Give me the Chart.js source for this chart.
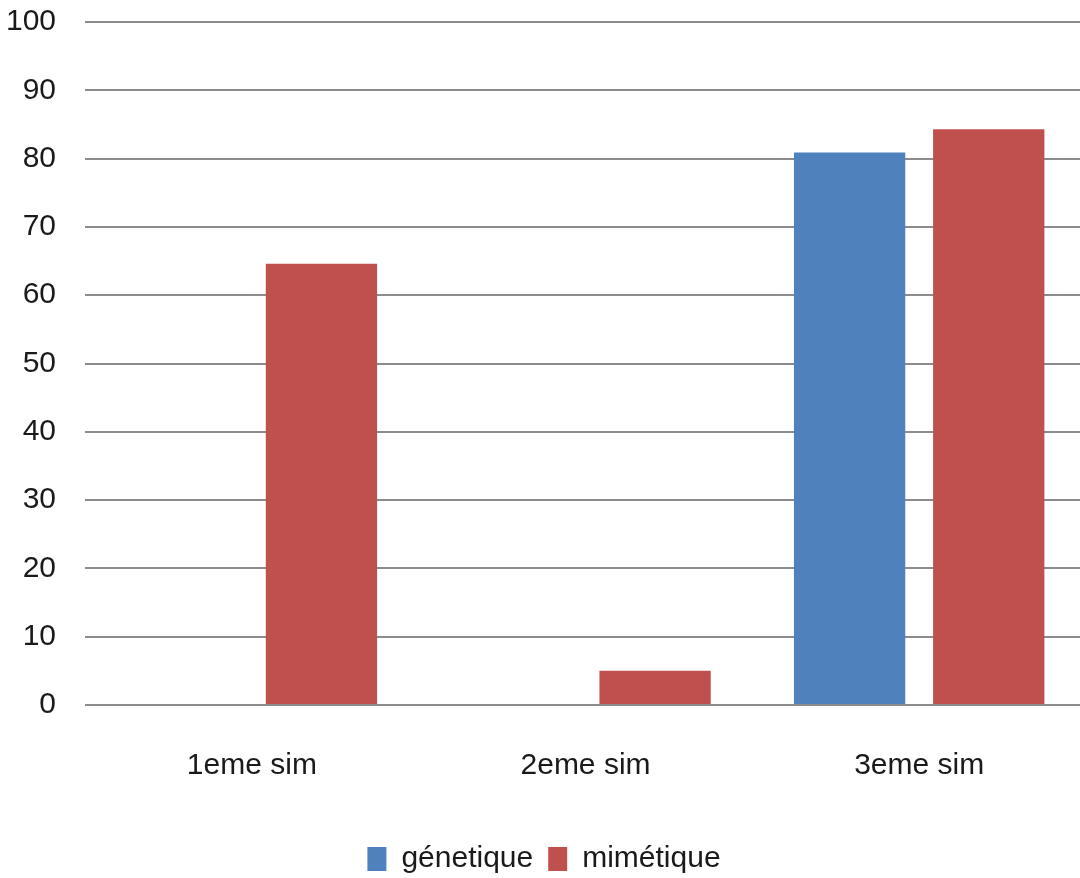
<!DOCTYPE html>
<html>
<head>
<meta charset="utf-8">
<script src="https://cdn.jsdelivr.net/npm/chart.js@4/dist/chart.umd.min.js"></script>
<style>
html,body{margin:0;padding:0;background:#fff;overflow:hidden;}
#wrap{position:relative;width:1090px;height:878px;}
</style>
</head>
<body>
<div id="wrap"><canvas id="c"></canvas></div>
<script>
const categories = ["1eme sim", "2eme sim", "3eme sim"];
const genetique = [0, 0, 80.9];
const mimetique = [64.6, 5, 84.3];
const seriesNames = ["génetique", "mimétique"];
const yTicks = [0, 10, 20, 30, 40, 50, 60, 70, 80, 90, 100];

const FONT = "'Liberation Sans', sans-serif";
new Chart(document.getElementById('c'), {
  type: 'bar',
  data: {
    labels: categories,
    datasets: [
      {label: seriesNames[0], data: genetique, backgroundColor: '#4F81BD', borderWidth: 0},
      {label: seriesNames[1], data: mimetique, backgroundColor: '#C0504D', borderWidth: 0}
    ]
  },
  options: {
    responsive: true,
    maintainAspectRatio: false,
    animation: false,
    layout: {padding: {left: 2, right: 4, top: 0, bottom: -6}},
    datasets: {bar: {categoryPercentage: 0.834, barPercentage: 0.8}},
    plugins: {
      tooltip: {enabled: false},
      legend: {
        position: 'bottom',
        labels: {
          color: '#1a1a1a',
          font: {family: FONT, size: 30},
          boxWidth: 19, boxHeight: 24, padding: 15
        }
      }
    },
    scales: {
      x: {
        grid: {display: false},
        border: {display: false},
        ticks: {color: '#1a1a1a', font: {family: FONT, size: 30}, padding: 35},
        afterFit: (s) => { s.height += 10; }
      },
      y: {
        min: 0, max: 100,
        afterBuildTicks: (s) => { s.ticks = yTicks.map(v => ({value: v})); },
        grid: {color: '#8c8c8c', lineWidth: 2, drawTicks: true, tickLength: 25, tickColor: 'rgba(0,0,0,0)'},
        border: {display: false},
        ticks: {color: '#1a1a1a', font: {family: FONT, size: 30}, padding: 4}
      }
    }
  }
});
</script>
</body>
</html>
